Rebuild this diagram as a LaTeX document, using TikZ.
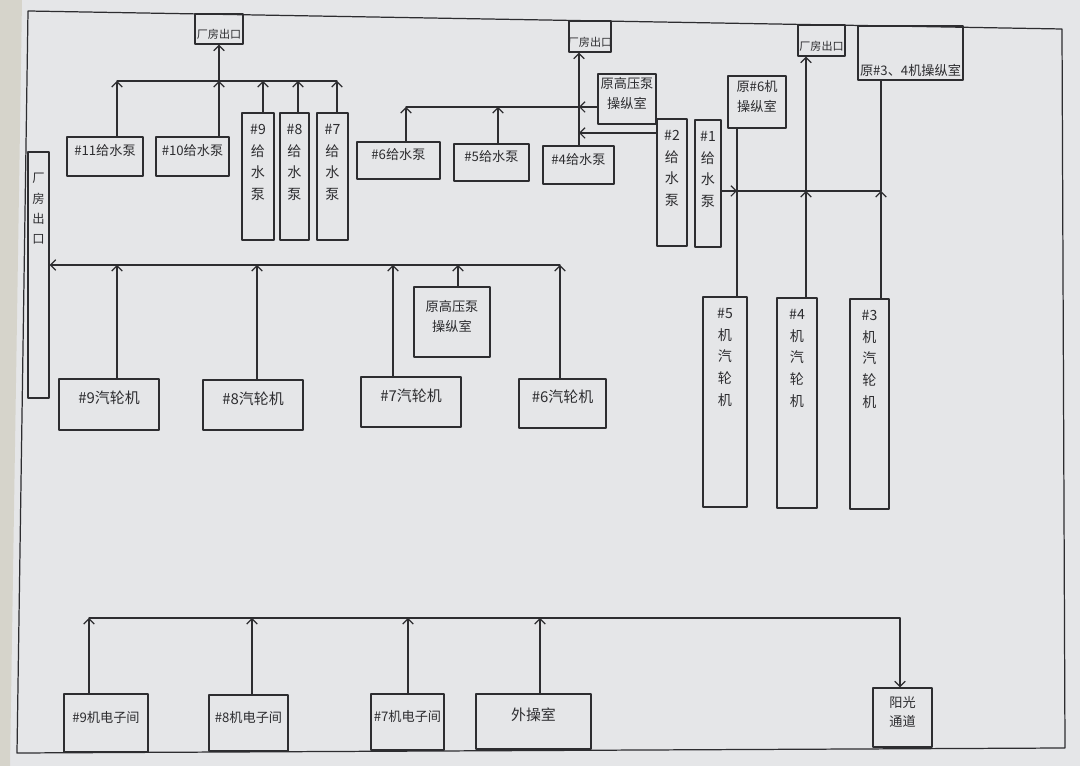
\documentclass[tikz,border=0pt]{standalone}
\usepackage{fontspec}
\setmainfont{Noto Sans CJK SC}
\usetikzlibrary{arrows.meta,calc,positioning,fit}
\definecolor{paper}{RGB}{229,230,232}
\definecolor{paperedge}{RGB}{214,212,203}
\definecolor{pencil}{RGB}{45,45,48}

\tikzset{
  room/.style={draw=pencil,line width=.7pt,inner sep=0pt,text=pencil,
    font=\fontsize{7.5}{11}\selectfont,align=center},
  bigroom/.style={room,font=\fontsize{8.5}{11}\selectfont},
  vtext/.style={anchor=north,yshift=-3pt,text=pencil,
    font=\fontsize{8}{12.5}\selectfont,align=center},
  exittext/.style={anchor=south,yshift=2pt,inner sep=1pt,text=pencil,
    font=\fontsize{6.3}{7}\selectfont},
  flow/.style={draw=pencil,line width=.7pt},
}

\begin{document}
\begin{tikzpicture}[x=0.02cm,y=-0.02cm,>={Straight Barb[length=3pt,width=6pt]},line cap=round,line join=round]
 \useasboundingbox (0,0) rectangle (1080,766);
 \fill[paper] (0,0) rectangle (1080,766);
 \fill[paperedge] (0,0) -- (22,0) -- (10,766) -- (0,766) -- cycle;
 % walls
 \draw[flow] (28,11) -- (1062,29) -- (1065,748) -- (17,753) -- cycle;

 % exits and old control rooms on the walls
 \node[room,fit={(195,14)(243,44)},label={[exittext]south:厂房出口}] (exA) {};
 \node[room,fit={(569,21)(611,52)},label={[exittext]south:厂房出口}] (exB) {};
 \node[room,fit={(798,25)(845,56)},label={[exittext]south:厂房出口}] (exC) {};
 \node[room,fit={(858,26)(963,80)},label={[vtext,anchor=south,yshift=2pt,font=\fontsize{7.5}{9}\selectfont]south:原\#3、4机操纵室}] (r34) {};
 \node[room,fit={(28,152)(49,398)},label={[vtext,yshift=-6pt,font=\fontsize{7}{11.5}\selectfont]north:厂\\房\\出\\口}] (exL) {};

 % feed pumps
 \node[room,fit={(67,137)(143,176)}] (p11) {\#11给水泵};
 \node[room,fit={(156,137)(229,176)}] (p10) {\#10给水泵};
 \node[room,fit={(242,113)(274,240)},label={[vtext]north:\#9\\给\\水\\泵}] (p9) {};
 \node[room,fit={(280,113)(309,240)},label={[vtext]north:\#8\\给\\水\\泵}] (p8) {};
 \node[room,fit={(317,113)(348,240)},label={[vtext]north:\#7\\给\\水\\泵}] (p7) {};
 \node[room,fit={(357,142)(440,179)}] (p6) {\#6给水泵};
 \node[room,fit={(454,144)(529,181)}] (p5) {\#5给水泵};
 \node[room,fit={(543,146)(614,184)}] (p4) {\#4给水泵};
 \node[room,fit={(598,74)(656,124)}] (hpA) {原高压泵\\操纵室};
 \node[room,fit={(657,119)(687,246)},label={[vtext]north:\#2\\给\\水\\泵}] (p2) {};
 \node[room,fit={(695,120)(721,247)},label={[vtext]north:\#1\\给\\水\\泵}] (p1) {};
 \node[room,fit={(728,76)(786,128)}] (r6) {原\#6机\\操纵室};

 % turbines
 \node[room,fit={(703,297)(747,507)},label={[vtext]north:\#5\\机\\汽\\轮\\机}] (t5) {};
 \node[room,fit={(777,298)(817,508)},label={[vtext]north:\#4\\机\\汽\\轮\\机}] (t4) {};
 \node[room,fit={(850,299)(889,509)},label={[vtext]north:\#3\\机\\汽\\轮\\机}] (t3) {};
 \node[bigroom,fit={(59,379)(159,430)}] (t9) {\#9汽轮机};
 \node[bigroom,fit={(203,380)(303,430)}] (t8) {\#8汽轮机};
 \node[bigroom,fit={(361,377)(461,427)}] (t7) {\#7汽轮机};
 \node[room,fit={(414,287)(490,357)}] (hpB) {原高压泵\\操纵室};
 \node[bigroom,fit={(519,379)(606,428)}] (t6) {\#6汽轮机};

 % bottom rooms
 \node[room,fit={(64,694)(148,752)}] (e9) {\#9机电子间};
 \node[room,fit={(209,695)(288,751)}] (e8) {\#8机电子间};
 \node[room,fit={(371,694)(444,750)}] (e7) {\#7机电子间};
 \node[bigroom,fit={(476,694)(591,749)}] (wc) {外操室};
 \node[room,fit={(873,688)(932,747)}] (sun) {阳光\\通道};

 % routes, top left
 \coordinate (j11) at (117,81);
 \coordinate (jA) at (219,81);
 \coordinate (j9) at (263,81);
 \coordinate (j8) at (298,81);
 \coordinate (j7) at (337,81);
 \draw[flow] (j11) -- (j7);
 \foreach \j/\b in {j11/p11,jA/p10,j9/p9,j8/p8,j7/p7}
  \draw[flow,->] (\j |- \b.north) -- (\j);
 \draw[flow,->] (jA) -- (exA.south);

 % routes, top middle
 \coordinate (jB) at (579,107);
 \coordinate (jB2) at (579,133);
 \coordinate (j6) at (406,107);
 \coordinate (j5) at (498,107);
 \draw[flow] (j6) -- (jB);
 \draw[flow,->] (j6 |- p6.north) -- (j6);
 \draw[flow,->] (j5 |- p5.north) -- (j5);
 \draw[flow,->] (jB |- p4.north) -- (jB |- exB.south);
 \draw[flow,->] (hpA.west |- jB) -- (jB);
 \draw[flow,->] (p2.west |- jB2) -- (jB2);

 % routes, top right
 \coordinate (jr) at (737,191);
 \coordinate (jc) at (806,191);
 \coordinate (jd) at (881,191);
 \draw[flow] (p1.east |- jr) -- (jd);
 \draw[flow,->] (p1.east |- jr) -- (jr);
 \draw[flow] (jr |- r6.south) -- (jr |- t5.north);
 \draw[flow,->] (jc |- t4.north) -- (jc);
 \draw[flow,->] (jc) -- (jc |- exC.south);
 \draw[flow,->] (jd |- t3.north) -- (jd);
 \draw[flow] (jd) -- (jd |- r34.south);

 % routes, middle left
 \coordinate (jt9) at (117,265);
 \coordinate (jt8) at (257,265);
 \coordinate (jt7) at (393,265);
 \coordinate (jhp) at (458,265);
 \coordinate (jt6) at (560,265);
 \draw[flow,->] (jt6) -- (exL.east |- jt6);
 \foreach \j/\b in {jt9/t9,jt8/t8,jt7/t7,jhp/hpB,jt6/t6}
  \draw[flow,->] (\j |- \b.north) -- (\j);

 % routes, bottom
 \coordinate (je9) at (89,618);
 \coordinate (je8) at (252,618);
 \coordinate (je7) at (408,618);
 \coordinate (jwc) at (540,618);
 \coordinate (jsun) at (900,618);
 \draw[flow] (je9) -- (jsun);
 \foreach \j/\b in {je9/e9,je8/e8,je7/e7,jwc/wc}
  \draw[flow,->] (\j |- \b.north) -- (\j);
 \draw[flow,->] (jsun) -- (jsun |- sun.north);
\end{tikzpicture}
\end{document}
